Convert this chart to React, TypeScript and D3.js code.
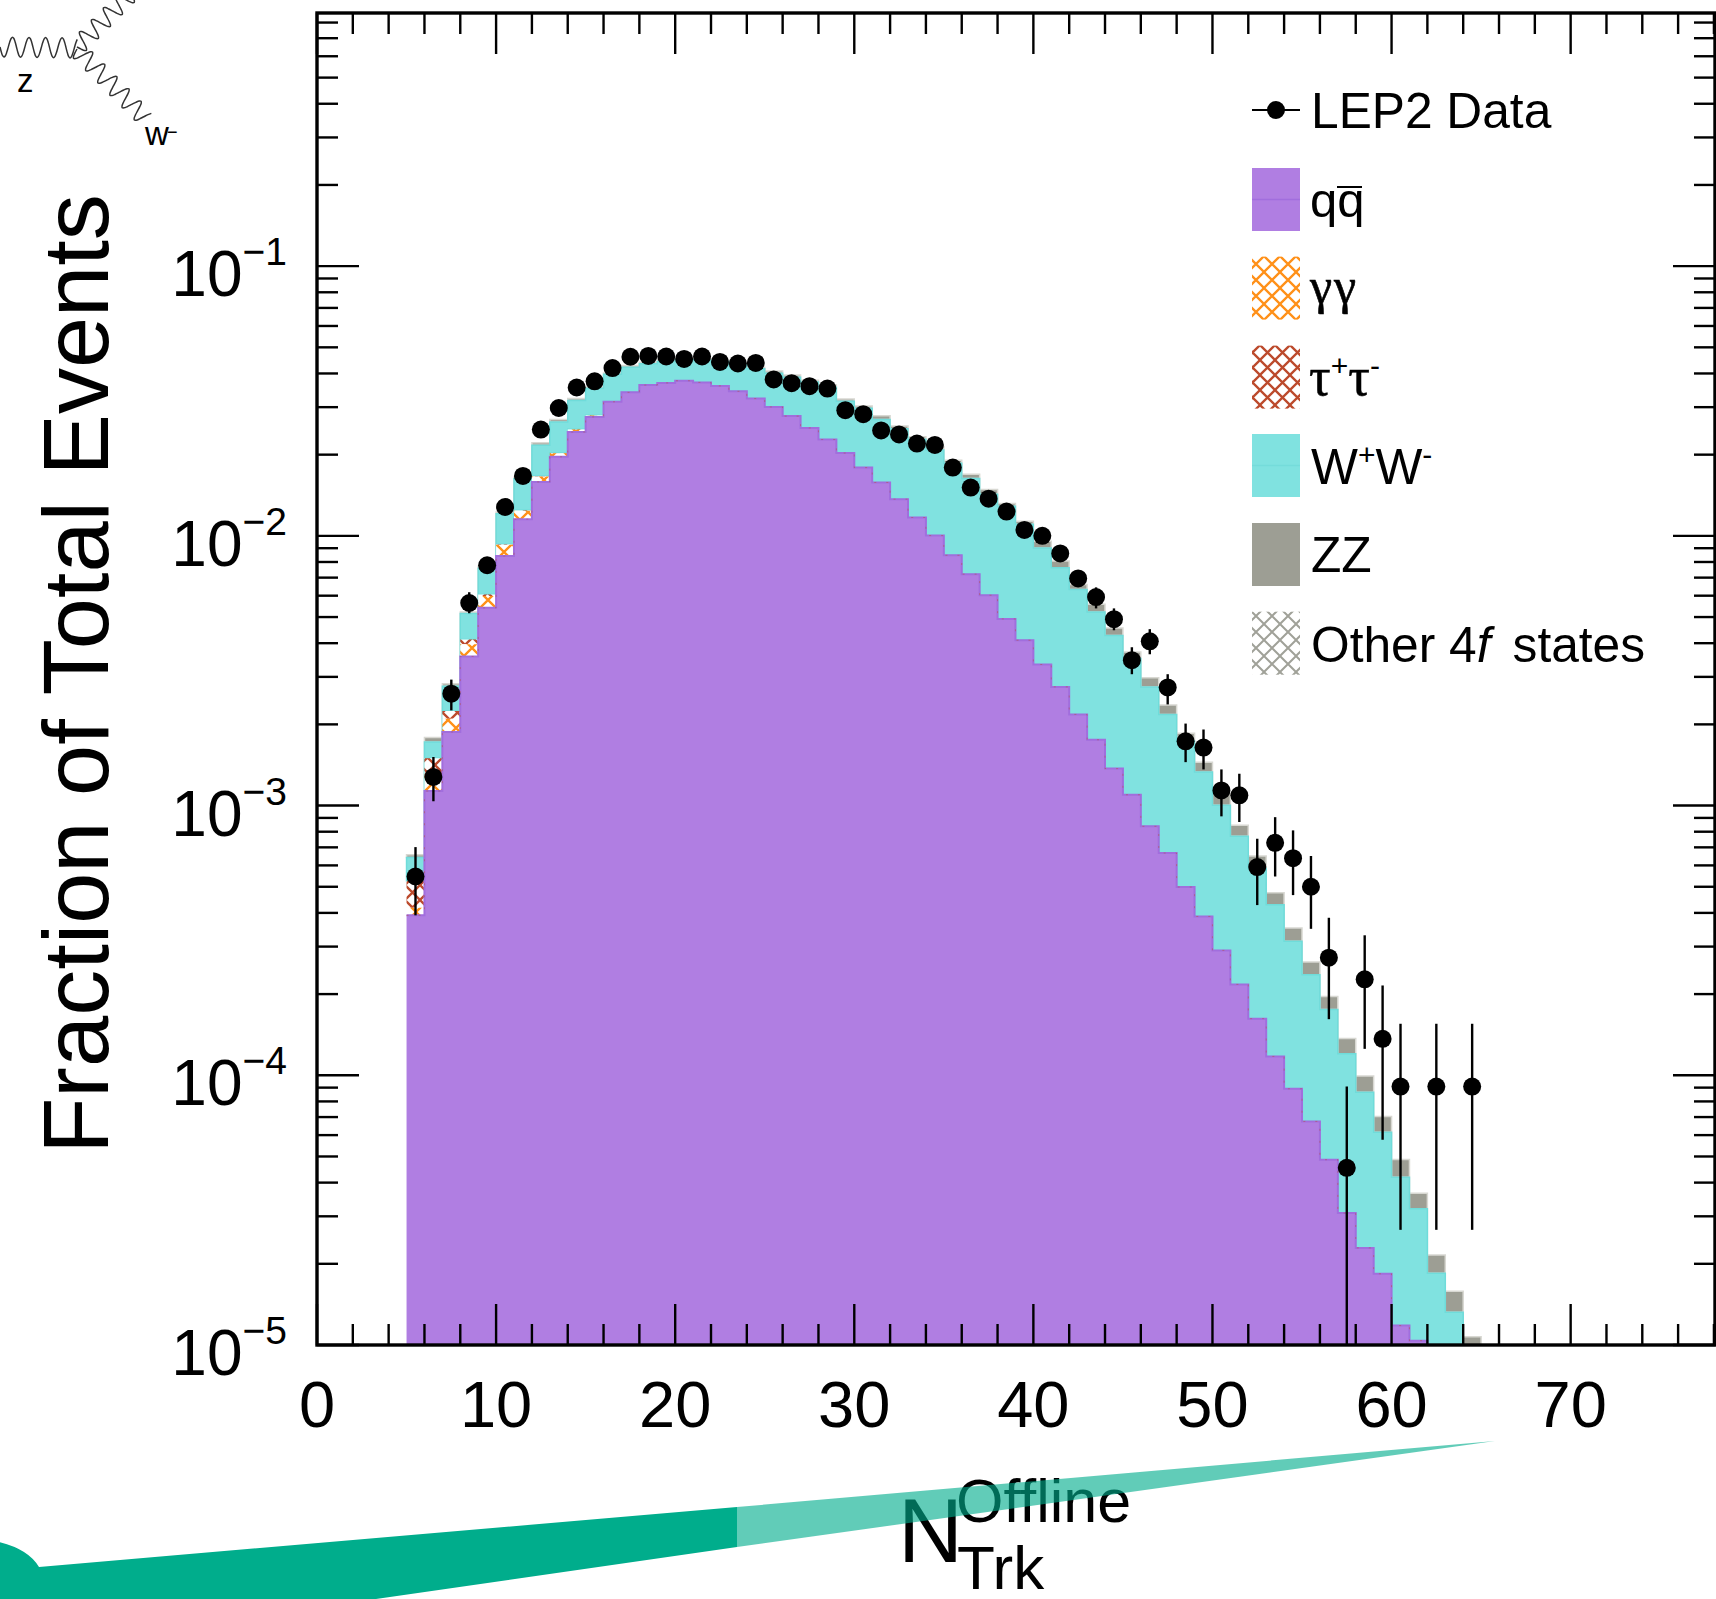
import React from 'react'
import * as d3 from 'd3'

// everything below is log10(fraction of events), one entry per unit bin
const firstBin = 5

const qqTop = [
  -3.407, -2.946, -2.727, -2.447, -2.267, -2.075, -1.938, -1.8, -1.707, -1.615,
  -1.559, -1.503, -1.468, -1.441, -1.433, -1.425, -1.431, -1.444, -1.464, -1.491,
  -1.522, -1.556, -1.6, -1.643, -1.693, -1.747, -1.802, -1.864, -1.932, -1.999,
  -2.072, -2.142, -2.22, -2.308, -2.387, -2.477, -2.56, -2.662, -2.756, -2.863,
  -2.96, -3.077, -3.176, -3.302, -3.411, -3.537, -3.663, -3.79, -3.93, -4.05,
  -4.171, -4.313, -4.511, -4.64, -4.736, -4.928, -4.984,
]

// gamma gamma and tau tau only show up in the first bins
const ggTop = [-3.379, -2.894, -2.678, -2.402, -2.223, -2.033, -1.907, -1.78, -1.694, -1.606, -1.554]
const tauTop = [-3.28, -2.825, -2.649, -2.384, -2.217, -2.031, -1.905, -1.778, -1.693, -1.605, -1.553]

const wwTop = [
  -3.193, -2.764, -2.558, -2.288, -2.12, -1.918, -1.788, -1.664, -1.578, -1.498,
  -1.453, -1.401, -1.375, -1.362, -1.354, -1.347, -1.349, -1.354, -1.365, -1.38,
  -1.397, -1.412, -1.43, -1.449, -1.501, -1.527, -1.569, -1.603, -1.642, -1.682,
  -1.731, -1.787, -1.846, -1.89, -1.957, -2.045, -2.118, -2.199, -2.282, -2.369,
  -2.455, -2.56, -2.662, -2.761, -2.876, -2.999, -3.114, -3.233, -3.368, -3.503,
  -3.627, -3.756, -3.92, -4.063, -4.211, -4.378, -4.495, -4.734, -4.879,
]

const zzTop = [
  -3.182, -2.748, -2.548, -2.282, -2.113, -1.912, -1.783, -1.655, -1.569, -1.491,
  -1.448, -1.396, -1.368, -1.356, -1.349, -1.341, -1.343, -1.349, -1.36, -1.375,
  -1.389, -1.404, -1.423, -1.441, -1.493, -1.519, -1.555, -1.593, -1.633, -1.67,
  -1.72, -1.772, -1.828, -1.88, -1.946, -2.02, -2.093, -2.18, -2.254, -2.342,
  -2.431, -2.526, -2.627, -2.732, -2.839, -2.956, -3.073, -3.187, -3.323, -3.454,
  -3.58, -3.708, -3.864, -4.003, -4.153, -4.312, -4.437, -4.666, -4.801, -4.969,
]

const dataValue = [
  -3.263, -2.894, -2.585, -2.249, -2.109, -1.893, -1.778, -1.606, -1.526, -1.45,
  -1.427, -1.378, -1.336, -1.333, -1.335, -1.344, -1.335, -1.355, -1.361, -1.359,
  -1.42, -1.434, -1.445, -1.454, -1.534, -1.549, -1.609, -1.624, -1.658, -1.663,
  -1.747, -1.821, -1.862, -1.91, -1.978, -2, -2.065, -2.158, -2.227, -2.309,
  -2.461, -2.391, -2.562, -2.762, -2.785, -2.944, -2.962, -3.228, -3.138, -3.195,
  -3.301, -3.564, -4.343, -3.644, -3.865, -4.042, null, -4.042, null, -4.042,
]
const dataErrUp = [
  0.109, 0.074, 0.052, 0.04, 0.03, 0.025, 0.022, 0.018, 0.016, 0.014,
  0.013, 0.012, 0.011, 0.011, 0.011, 0.011, 0.011, 0.011, 0.011, 0.012,
  0.012, 0.012, 0.012, 0.013, 0.014, 0.014, 0.015, 0.016, 0.016, 0.017,
  0.018, 0.02, 0.021, 0.022, 0.024, 0.024, 0.026, 0.03, 0.036, 0.04,
  0.048, 0.045, 0.049, 0.066, 0.067, 0.078, 0.08, 0.105, 0.095, 0.103,
  0.114, 0.148, 0.301, 0.163, 0.198, 0.233, null, 0.233, null, 0.233,
]
const dataErrDown = [
  0.144, 0.09, 0.062, 0.038, 0.03, 0.025, 0.022, 0.018, 0.016, 0.014,
  0.013, 0.012, 0.011, 0.011, 0.011, 0.011, 0.011, 0.011, 0.011, 0.012,
  0.012, 0.012, 0.012, 0.013, 0.014, 0.014, 0.015, 0.016, 0.016, 0.017,
  0.018, 0.02, 0.021, 0.022, 0.024, 0.024, 0.026, 0.03, 0.042, 0.041,
  0.052, 0.048, 0.063, 0.077, 0.081, 0.096, 0.099, 0.141, 0.125, 0.137,
  0.156, 0.228, 0.657, 0.258, 0.374, 0.531, null, 0.531, null, 0.531,
]

const xTickLabels = [0, 10, 20, 30, 40, 50, 60, 70]
const yDecades = [-1, -2, -3, -4, -5]

const purple = '#B07EE2'
const teal = '#80E2E0'
const grey = '#9D9E94'
const orange = '#FF9018'
const brick = '#BC4A2C'
const green = '#00AD8C'
const sans = '"Liberation Sans", Arial, Helvetica, sans-serif'
const serif = '"Liberation Serif", "DejaVu Serif", serif'

const W = 1716
const H = 1599
const left = 317
const right = 1715
const top = 13
const bottom = 1345

const x = d3.scaleLinear().domain([0, 78.06]).range([left, right])
const y = d3.scaleLog().domain([0.868, 1e-5]).range([top, bottom])

const floorLog = -6 // below the axis, gets clipped
const nBins = zzTop.length

type Bin = { b: number; lo: number; hi: number }

function band(loArr: number[], hiArr: number[]) {
  const rows: Bin[] = d3.range(nBins + 1).map(i => {
    const j = Math.min(i, nBins - 1)
    return {
      b: firstBin + i,
      lo: loArr[j] ?? floorLog,
      hi: hiArr[j] ?? floorLog,
    }
  })
  return d3.area<Bin>()
    .curve(d3.curveStepAfter)
    .x(d => x(d.b))
    .y0(d => y(10 ** d.lo))
    .y1(d => y(10 ** d.hi))(rows) as string
}

function outline(arr: number[]) {
  const rows = d3.range(nBins + 1).map(i => ({
    b: firstBin + i,
    v: arr[Math.min(i, nBins - 1)] ?? floorLog,
  }))
  return d3.line<{ b: number; v: number }>()
    .curve(d3.curveStepAfter)
    .x(d => x(d.b))
    .y(d => y(10 ** d.v))(rows) as string
}

const floorArr = zzTop.map(() => floorLog)
const ggBase = qqTop.map((v, i) => ggTop[i] ?? v)
const tauBase = qqTop.map((v, i) => tauTop[i] ?? v)

// little boson lines for the decoration in the corner
function wiggle(x0: number, y0: number, x1: number, y1: number, periods: number, amp: number) {
  const dx = x1 - x0
  const dy = y1 - y0
  const len = Math.hypot(dx, dy)
  const pts = d3.range(0, periods * 12 + 1).map(k => {
    const t = k / (periods * 12)
    const off = amp * Math.sin(t * periods * 2 * Math.PI)
    return [x0 + dx * t - (dy / len) * off, y0 + dy * t + (dx / len) * off] as [number, number]
  })
  return d3.line().curve(d3.curveCatmullRom)(pts) as string
}

function Hatch({ id, color, size, width }: { id: string; color: string; size: number; width: number }) {
  return (
    <pattern id={id} width={size} height={size} patternUnits="userSpaceOnUse">
      <rect width={size} height={size} fill="#fff" />
      <path
        d={`M0,0L${size},${size}M${size},0L0,${size}`}
        stroke={color}
        strokeWidth={width}
        fill="none"
      />
    </pattern>
  )
}

const legendX = 1252
const legendW = 48
const legendH = 63
const legendText = 1311
const rows = [
  { top: 168, fill: purple, line: '#A16EDD' },
  { top: 256.6, fill: 'url(#hGG)', line: null },
  { top: 345.6, fill: 'url(#hTau)', line: null },
  { top: 434, fill: teal, line: '#74DCDA' },
  { top: 523, fill: grey, line: null },
  { top: 611.7, fill: 'url(#hOther)', line: null },
]

export default function App() {
  const yTicks = y.ticks().filter(t => t >= 1e-5 && t <= 0.868)
  const xTicks = d3.range(0, 79, 2)
  const isMajorY = (t: number) => Math.abs(Math.log10(t) - Math.round(Math.log10(t))) < 1e-6

  return (
    <svg
      width={W}
      height={H}
      viewBox={`0 0 ${W} ${H}`}
      style={{ position: 'absolute', left: 0, top: 0, background: '#fff' }}
      fontFamily={sans}
    >
      <defs>
        <clipPath id="plotClip">
          <rect x={left} y={top} width={right - left} height={bottom - top} />
        </clipPath>
        <Hatch id="hGG" color={orange} size={16} width={2.3} />
        <Hatch id="hTau" color={brick} size={15} width={2.3} />
        <Hatch id="hOther" color="#A0A198" size={16} width={2} />
      </defs>

      {/* stack */}
      <g clipPath="url(#plotClip)">
        <path d={band(zzTop, wwTop)} fill={grey} stroke="#D8D8D2" strokeWidth={1.5} />
        <path d={band(wwTop, tauBase)} fill={teal} stroke="#6FDCDA" strokeWidth={1.5} />
        <path d={band(tauBase, ggBase)} fill="url(#hTau)" />
        <path d={band(ggBase, qqTop)} fill="url(#hGG)" />
        <path d={band(qqTop, floorArr)} fill={purple} />
        <path d={outline(qqTop)} fill="none" stroke="#A16EDD" strokeWidth={2} />
        <path d={outline(qqTop)} fill="none" stroke={brick} strokeWidth={1} strokeOpacity={0.45} strokeDasharray="2 10" />
      </g>

      {/* data points */}
      <g clipPath="url(#plotClip)">
        {dataValue.map((v, i) => {
          if (v === null) return null
          const cx = x(firstBin + i + 0.5)
          return (
            <g key={i}>
              <line
                x1={cx}
                x2={cx}
                y1={y(10 ** (v + (dataErrUp[i] as number)))}
                y2={y(10 ** (v - (dataErrDown[i] as number)))}
                stroke="#000"
                strokeWidth={2.4}
              />
              <circle cx={cx} cy={y(10 ** v)} r={9} fill="#000" />
            </g>
          )
        })}
      </g>

      {/* ticks on all four sides */}
      <g stroke="#000">
        {yTicks.map(t => {
          const len = isMajorY(t) ? 42 : 21
          return (
            <g key={t} strokeWidth={2.4}>
              <line x1={left} x2={left + len} y1={y(t)} y2={y(t)} />
              <line x1={right} x2={right - len} y1={y(t)} y2={y(t)} />
            </g>
          )
        })}
        {xTicks.map(t => {
          const len = t % 10 === 0 ? 41 : 21
          return (
            <g key={t} strokeWidth={2.4}>
              <line x1={x(t)} x2={x(t)} y1={bottom} y2={bottom - len} />
              <line x1={x(t)} x2={x(t)} y1={top} y2={top + len} />
            </g>
          )
        })}
        <rect x={left} y={top} width={right - left} height={bottom - top} fill="none" strokeWidth={3.4} />
      </g>

      {/* tick labels */}
      {xTickLabels.map(t => (
        <text key={t} x={x(t)} y={1427} fontSize={65} textAnchor="middle">{t}</text>
      ))}
      {yDecades.map(d => (
        <text key={d} x={287} y={y(10 ** d) + 30} fontSize={64} textAnchor="end">
          10<tspan fontSize={39} dy={-31}>{'\u2212' + Math.abs(d)}</tspan>
        </text>
      ))}

      {/* axis titles */}
      <text
        transform={`translate(108,674) rotate(-90)`}
        fontSize={92}
        textAnchor="middle"
      >
        Fraction of Total Events
      </text>
      <text x={898} y={1562} fontSize={90}>N</text>
      <text x={956} y={1522} fontSize={61}>Offline</text>
      <text x={957} y={1589} fontSize={62}>Trk</text>

      {/* legend */}
      <line x1={legendX} x2={legendX + legendW} y1={110} y2={110} stroke="#000" strokeWidth={2} />
      <circle cx={legendX + legendW / 2} cy={110} r={9} fill="#000" />
      <text x={legendText} y={128} fontSize={49.7}>LEP2 Data</text>
      {rows.map((r, i) => (
        <g key={i}>
          <rect x={legendX} y={r.top} width={legendW} height={legendH} fill={r.fill} />
          {r.line && (
            <line x1={legendX} x2={legendX + legendW} y1={r.top + legendH / 2} y2={r.top + legendH / 2} stroke={r.line} strokeWidth={1.5} />
          )}
        </g>
      ))}
      <text x={legendText - 1} y={217} fontSize={49}>qq</text>
      <line x1={1337} x2={1362} y1={187} y2={187} stroke="#000" strokeWidth={2} />
      <text x={legendText - 1} y={303} fontSize={50} fontFamily={serif} letterSpacing={2} stroke="#000" strokeWidth={0.6}>γγ</text>
      <text x={legendText - 2} y={395} fontSize={54} fontFamily={serif} stroke="#000" strokeWidth={0.5}>
        τ<tspan fontFamily={sans} fontSize={30} strokeWidth={0} dy={-19}>+</tspan>
        <tspan dy={19}>τ</tspan>
        <tspan fontFamily={sans} fontSize={30} strokeWidth={0} dy={-19}>-</tspan>
      </text>
      <text x={legendText} y={484} fontSize={49.7}>
        W<tspan fontSize={30} dy={-19}>+</tspan>
        <tspan dy={19}>W</tspan>
        <tspan fontSize={30} dy={-19}>-</tspan>
      </text>
      <text x={legendText} y={572} fontSize={49.7}>ZZ</text>
      <text x={legendText} y={662} fontSize={49.7}>
        Other 4<tspan fontStyle="italic">f</tspan>
        <tspan dx={22}>states</tspan>
      </text>

      {/* corner decoration, drawn after the title so the title shows through */}
      <g fill="none" stroke="#333" strokeWidth={1.5}>
        <path d={wiggle(0, 47, 76, 48, 4.6, 10)} />
        <path d={wiggle(77, 49, 145, 118, 5.6, 9)} />
        <path d={wiggle(77, 47, 132, -8, 4.6, 9)} />
      </g>
      <text x={17} y={92} fontSize={33}>z</text>
      <text x={145} y={145} fontSize={33}>w</text>
      <text x={167} y={138} fontSize={18}>{'\u2212'}</text>

      <path d="M737,1507 L1495,1441 L737,1547 Z" fill={green} fillOpacity={0.62} />
      <path d="M-5,1541 Q28,1548 39,1567 L737,1507 L737,1547 L376,1599 L-5,1599 Z" fill={green} />
    </svg>
  )
}
